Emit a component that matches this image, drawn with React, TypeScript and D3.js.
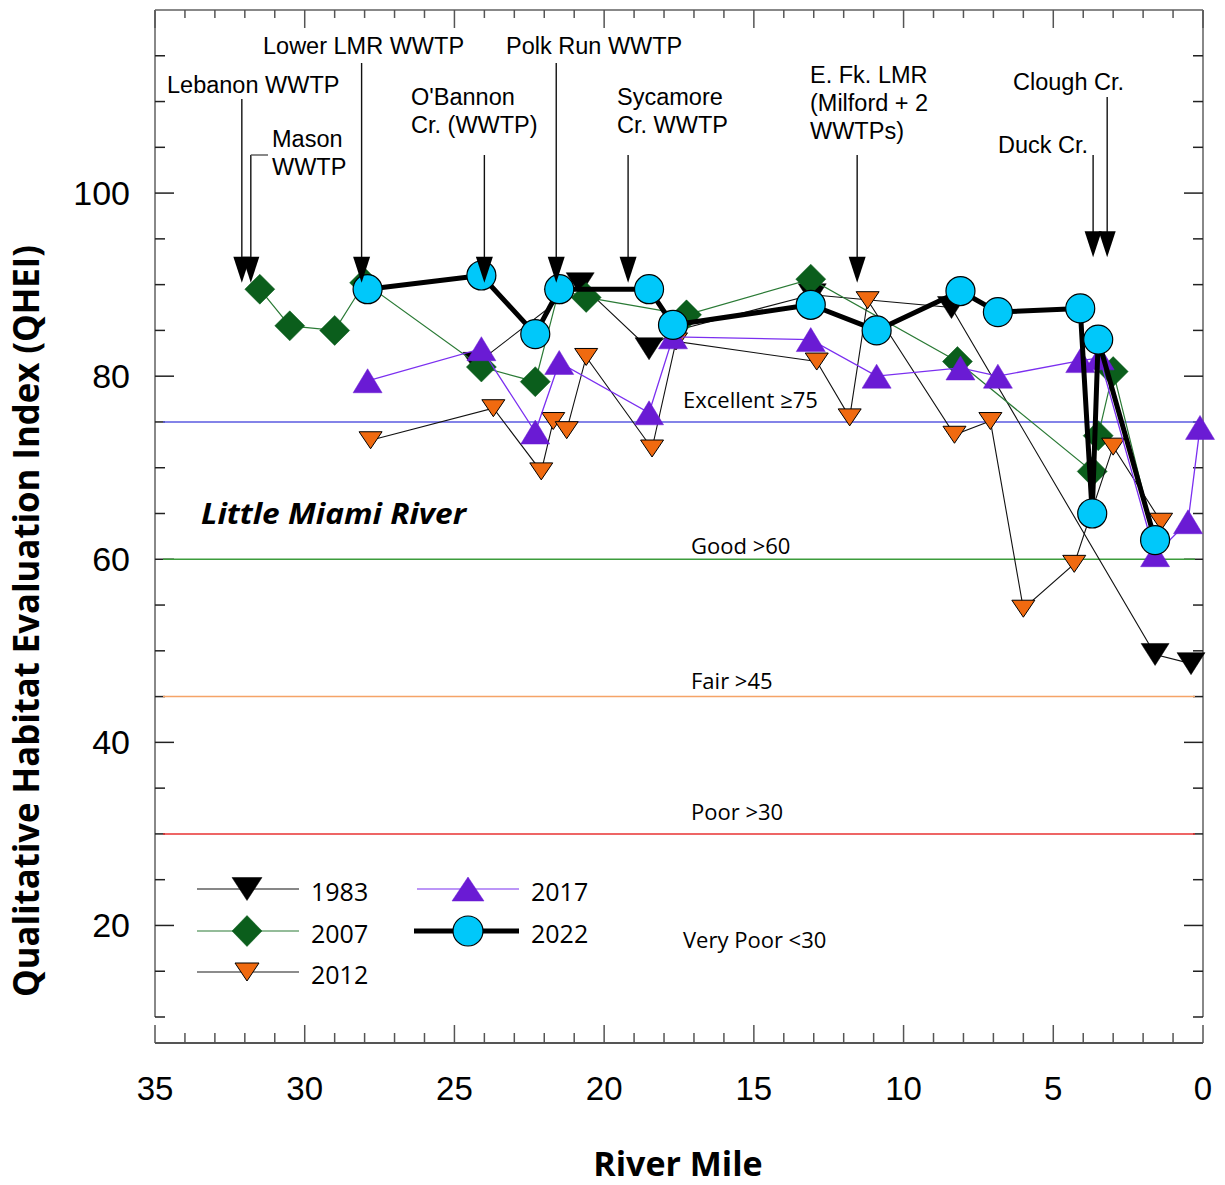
import React from 'react';
import * as d3 from 'd3';

// ---------- DATA ----------
const miles1983 = [24.25, 20.8, 18.5, 17.6, 13.05, 8.4, 1.6, 0.4];
const qhei1983 = [81.4, 90.1, 83.0, 85.0, 88.9, 87.5, 49.6, 48.6];

const miles2007 = [31.5, 30.5, 29.0, 28.0, 24.1, 22.3, 21.5, 20.6, 17.25, 13.1, 8.2, 3.7, 3.5, 3.0, 1.6];
const qhei2007 = [89.5, 85.5, 85.0, 90.2, 81.0, 79.4, 89.5, 88.6, 86.7, 90.6, 81.6, 69.6, 73.5, 80.5, 62.0];

const miles2012 = [27.8, 23.7, 22.1, 21.7, 21.25, 20.6, 18.4, 17.6, 12.9, 11.8, 11.2, 8.3, 7.1, 6.0, 4.3, 3.0, 1.4];
const qhei2012 = [73.0, 76.5, 69.6, 75.1, 74.1, 82.1, 72.1, 83.8, 81.6, 75.5, 88.3, 73.6, 75.1, 54.6, 59.5, 72.3, 64.1];

const miles2017 = [27.9, 24.1, 22.3, 21.5, 18.5, 17.7, 13.1, 10.9, 8.1, 6.85, 4.1, 3.45, 1.6, 0.5, 0.1];
const qhei2017 = [79.5, 83.0, 73.9, 81.5, 76.0, 84.3, 84.0, 80.0, 80.9, 80.0, 81.7, 82.0, 60.5, 64.1, 74.4];

const miles2022 = [27.9, 24.1, 22.3, 21.5, 18.5, 17.7, 13.1, 10.9, 8.1, 6.85, 4.1, 3.7, 3.5, 1.6];
const qhei2022 = [89.5, 91.0, 84.6, 89.5, 89.5, 85.6, 87.8, 85.0, 89.3, 87.0, 87.4, 65.0, 84.0, 62.1];

const legendYears = ['1983', '2007', '2012', '2017', '2022'];

const xTickLabels = [35, 30, 25, 20, 15, 10, 5, 0];
const yTickLabels = [20, 40, 60, 80, 100];

const zoneThresholds = [75, 60, 45, 30];
const zoneLabels = ['Excellent ≥75', 'Good >60', 'Fair >45', 'Poor >30', 'Very Poor <30'];

const siteNames = [
  ['Lebanon WWTP'],
  ['Mason', 'WWTP'],
  ['Lower LMR WWTP'],
  ["O'Bannon", 'Cr. (WWTP)'],
  ['Polk Run WWTP'],
  ['Sycamore', 'Cr. WWTP'],
  ['E. Fk. LMR', '(Milford + 2', 'WWTPs)'],
  ['Duck Cr.'],
  ['Clough Cr.'],
];
const siteMiles = [32.1, 31.8, 28.1, 24.0, 21.6, 19.2, 11.55, 3.67, 3.2];
const siteArrowTip = [90.2, 90.2, 90.2, 90.2, 90.2, 90.2, 90.2, 93.0, 93.0];

// ---------- LAYOUT ----------
const W = 1225;
const H = 1185;
const LEFT = 155;
const RIGHT = 1203;
const TOP = 10;
const BOTTOM = 1017;
const XAXIS_Y = 1043;

const siteLayout = [
  { tx: 167, ty: 93, top: 99 },
  { tx: 272, ty: 147, top: 155, stub: 268 },
  { tx: 263, ty: 54, top: 63 },
  { tx: 411, ty: 105, top: 155 },
  { tx: 506, ty: 54, top: 63 },
  { tx: 617, ty: 105, top: 155 },
  { tx: 810, ty: 83, top: 155 },
  { tx: 998, ty: 153, top: 155 },
  { tx: 1013, ty: 90, top: 97 },
];

const zoneLabelLayout = [
  { x: 683, y: 408 },
  { x: 691, y: 554 },
  { x: 691, y: 689 },
  { x: 691, y: 820 },
  { x: 683, y: 948 },
];

const zoneColors = ['#5a5ae0', '#3c9c3c', '#f5a468', '#e83232'];

const triDown = (w: number, h: number) => `M${-w / 2},${-h / 2}L${w / 2},${-h / 2}L0,${h / 2}Z`;
const triUp = (w: number, h: number) => `M${-w / 2},${h / 2}L${w / 2},${h / 2}L0,${-h / 2}Z`;
const diamond = (w: number, h: number) => `M0,${-h / 2}L${w / 2},0L0,${h / 2}L${-w / 2},0Z`;

const annoFont = "'Liberation Sans', Arial, sans-serif";
const bodyFont = "'Open Sans', 'Noto Sans', sans-serif";

export default function App() {
  const x = d3.scaleLinear().domain([35, 0]).range([LEFT, RIGHT]);
  const y = d3.scaleLinear().domain([10, 120]).range([BOTTOM, TOP]);

  const linePath = (ms: number[], vs: number[]) =>
    d3
      .line<number>()
      .x((m) => x(m))
      .y((_, i) => y(vs[i]))(ms) || '';

  const series = [
    { ms: miles1983, vs: qhei1983, stroke: '#111', sw: 1.1, marker: triDown(28, 22), fill: '#000', mstroke: '#000', msw: 0.5 },
    { ms: miles2007, vs: qhei2007, stroke: '#2a7a35', sw: 1.2, marker: diamond(30, 30), fill: '#0b5e1c', mstroke: '#0b5e1c', msw: 0.5 },
    { ms: miles2012, vs: qhei2012, stroke: '#111', sw: 1.1, marker: triDown(23, 17), fill: '#f06a10', mstroke: '#000', msw: 1 },
    { ms: miles2017, vs: qhei2017, stroke: '#7b2ff0', sw: 1.3, marker: triUp(29, 24), fill: '#6a1bd4', mstroke: '#6a1bd4', msw: 0.5 },
  ];

  const xTicks = d3.range(0, 36, 1);
  const yTicks = d3.range(10, 120, 5);

  const legendItems = [
    { lx: 197, lx2: 299, mx: 247, ly: 889, tx: 311, year: legendYears[0], stroke: '#111', sw: 1.1, marker: triDown(30, 23), fill: '#000', ms: '#000', msw: 0.5, circle: false },
    { lx: 197, lx2: 299, mx: 247, ly: 931, tx: 311, year: legendYears[1], stroke: '#2a7a35', sw: 1.2, marker: diamond(30, 31), fill: '#0b5e1c', ms: '#0b5e1c', msw: 0.5, circle: false },
    { lx: 197, lx2: 299, mx: 247, ly: 972, tx: 311, year: legendYears[2], stroke: '#666', sw: 1.6, marker: triDown(24, 18), fill: '#f06a10', ms: '#000', msw: 1, circle: false },
    { lx: 417, lx2: 519, mx: 468, ly: 889, tx: 531, year: legendYears[3], stroke: '#7b2ff0', sw: 1.2, marker: triUp(32, 24), fill: '#6a1bd4', ms: '#6a1bd4', msw: 0.5, circle: false },
    { lx: 414, lx2: 519, mx: 468, ly: 931, tx: 531, year: legendYears[4], stroke: '#000', sw: 5, marker: '', fill: '#00c8fa', ms: '#000', msw: 1, circle: true },
  ];

  return (
    <svg
      width={W}
      height={H}
      viewBox={`0 0 ${W} ${H}`}
      style={{ position: 'absolute', left: 0, top: 0, background: '#fff' }}
    >
      <rect x={0} y={0} width={W} height={H} fill="#fff" />

      {/* frame */}
      <line x1={LEFT} y1={TOP} x2={RIGHT} y2={TOP} stroke="#888" strokeWidth={2} />
      <line x1={LEFT} y1={TOP} x2={LEFT} y2={BOTTOM} stroke="#888" strokeWidth={2} />
      <line x1={RIGHT} y1={TOP} x2={RIGHT} y2={BOTTOM} stroke="#888" strokeWidth={2} />
      <line x1={LEFT} y1={XAXIS_Y} x2={RIGHT} y2={XAXIS_Y} stroke="#555" strokeWidth={2} />

      {xTicks.map((t) => {
        const major = t % 5 === 0;
        return (
          <g key={'xt' + t}>
            <line x1={x(t)} x2={x(t)} y1={TOP} y2={TOP + (major ? 18 : 8)} stroke="#555" strokeWidth={1.5} />
            <line x1={x(t)} x2={x(t)} y1={XAXIS_Y} y2={XAXIS_Y - (major ? 18 : 10)} stroke="#555" strokeWidth={1.5} />
          </g>
        );
      })}
      {yTicks.map((t) => {
        const major = t % 20 === 0;
        return (
          <g key={'yt' + t}>
            <line x1={LEFT} x2={LEFT + (major ? 19 : 10)} y1={y(t)} y2={y(t)} stroke="#222" strokeWidth={1.5} />
            <line x1={RIGHT} x2={RIGHT - (major ? 19 : 10)} y1={y(t)} y2={y(t)} stroke="#222" strokeWidth={1.5} />
          </g>
        );
      })}

      {xTickLabels.map((t) => (
        <text key={'xl' + t} x={x(t)} y={1100} textAnchor="middle" fontFamily={annoFont} fontSize={33} fill="#000">
          {t}
        </text>
      ))}
      {yTickLabels.map((t) => (
        <text key={'yl' + t} x={130} y={y(t) + 12} textAnchor="end" fontFamily={annoFont} fontSize={34} fill="#000">
          {t}
        </text>
      ))}

      <text x={678} y={1176} textAnchor="middle" fontFamily={bodyFont} fontWeight={700} fontSize={34}>
        River Mile
      </text>
      <text
        transform={`translate(39,621) rotate(-90)`}
        textAnchor="middle"
        fontFamily={bodyFont}
        fontWeight={700}
        fontSize={35}
        textLength={752}
        lengthAdjust="spacingAndGlyphs"
      >
        Qualitative Habitat Evaluation Index (QHEI)
      </text>

      {zoneThresholds.map((v, i) => (
        <line key={'z' + v} x1={163} x2={i === 0 ? RIGHT : 1195} y1={y(v)} y2={y(v)} stroke={zoneColors[i]} strokeWidth={1.5} />
      ))}
      {zoneLabels.map((lab, i) => (
        <text key={'zl' + i} x={zoneLabelLayout[i].x} y={zoneLabelLayout[i].y} fontFamily={bodyFont} fontSize={22} fill="#000">
          {lab}
        </text>
      ))}

      <text x={201} y={524} fontFamily={bodyFont} fontWeight={700} fontStyle="italic" fontSize={28} textLength={265} lengthAdjust="spacingAndGlyphs">
        Little Miami River
      </text>

      {series.map((s, si) => (
        <g key={'s' + si}>
          <path d={linePath(s.ms, s.vs)} fill="none" stroke={s.stroke} strokeWidth={s.sw} />
          {s.ms.map((m, i) => (
            <path
              key={i}
              d={s.marker}
              transform={`translate(${x(m)},${y(s.vs[i])})`}
              fill={s.fill}
              stroke={s.mstroke}
              strokeWidth={s.msw}
            />
          ))}
        </g>
      ))}
      <g>
        <path d={linePath(miles2022, qhei2022)} fill="none" stroke="#000" strokeWidth={5} strokeLinejoin="round" />
        {miles2022.map((m, i) => (
          <circle key={i} cx={x(m)} cy={y(qhei2022[i])} r={14.5} fill="#00c8fa" stroke="#000" strokeWidth={1.2} />
        ))}
      </g>

      {siteNames.map((lines, i) => {
        const L = siteLayout[i];
        const ax = x(siteMiles[i]);
        const tip = y(siteArrowTip[i]);
        return (
          <g key={'site' + i}>
            {lines.map((ln, j) => (
              <text key={j} x={L.tx} y={L.ty + j * 28} fontFamily={annoFont} fontSize={23.5} fill="#000">
                {ln}
              </text>
            ))}
            <line x1={ax} x2={ax} y1={L.top} y2={tip - 20} stroke="#111" strokeWidth={1.4} />
            {L.stub ? <line x1={ax} x2={L.stub} y1={L.top} y2={L.top} stroke="#555" strokeWidth={1.4} /> : null}
            <path d={`M${ax - 8.5},${tip - 26}L${ax + 8.5},${tip - 26}L${ax},${tip}Z`} fill="#000" />
          </g>
        );
      })}

      {legendItems.map((it, i) => (
        <g key={'lg' + i}>
          <line x1={it.lx} x2={it.lx2} y1={it.ly} y2={it.ly} stroke={it.stroke} strokeWidth={it.sw} />
          {it.circle ? (
            <circle cx={it.mx} cy={it.ly} r={15} fill={it.fill} stroke={it.ms} strokeWidth={1.2} />
          ) : (
            <path d={it.marker} transform={`translate(${it.mx},${it.ly})`} fill={it.fill} stroke={it.ms} strokeWidth={it.msw} />
          )}
          <text x={it.tx} y={it.ly + 12} fontFamily={bodyFont} fontSize={25} fill="#000">
            {it.year}
          </text>
        </g>
      ))}
    </svg>
  );
}
